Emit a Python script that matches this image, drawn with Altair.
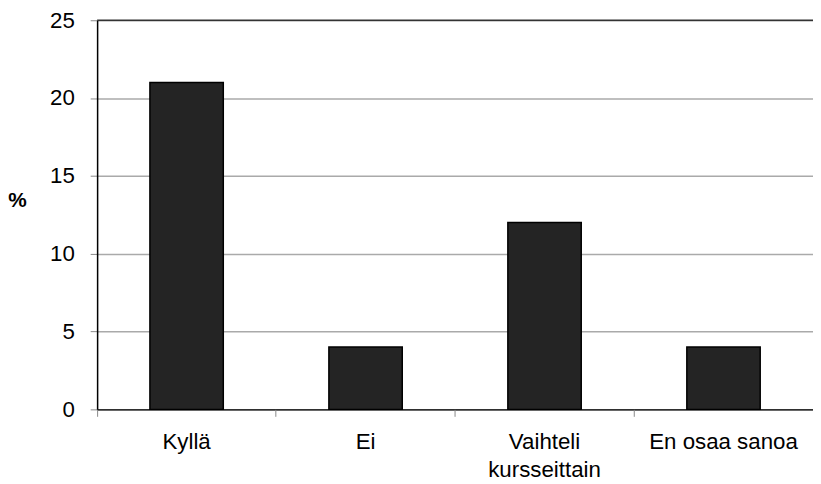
import altair as alt
import pandas as pd

categories = ["Kyllä", "Ei", "Vaihteli kursseittain", "En osaa sanoa"]
values = [21, 4, 12, 4]
top_value = [25]

df = pd.DataFrame({"cat": categories, "val": values})
FONT = "Liberation Sans, Arial, sans-serif"

xscale = alt.Scale(domain=categories, paddingInner=0.59, paddingOuter=0.295)
xscale_ticks = alt.Scale(domain=categories, paddingInner=0, paddingOuter=0)
yscale = alt.Scale(domain=[0, 25], nice=False)

bars = alt.Chart(df).mark_bar(color="#242424", stroke="#000000", strokeWidth=1.5).encode(
    x=alt.X("cat:N", scale=xscale, sort=categories,
            axis=alt.Axis(title=None, orient="bottom", labelAngle=0, ticks=False,
                          domain=True, domainColor="#000000", domainWidth=1.5,
                          labelFont=FONT, labelFontSize=22.5, labelColor="#000000",
                          labelPadding=22, labelLineHeight=28,
                          labelExpr="datum.value == 'Vaihteli kursseittain' ? ['Vaihteli', 'kursseittain'] : datum.value")),
    y=alt.Y("val:Q", scale=yscale,
            axis=alt.Axis(title="%", values=[0, 5, 10, 15, 20, 25], grid=True,
                          gridColor="#aaaaaa", gridWidth=1.5,
                          domainColor="#000000", domainWidth=1.5,
                          tickColor="#888888", tickSize=7, tickWidth=1,
                          labelFont=FONT, labelFontSize=22.5, labelColor="#000000",
                          labelPadding=16,
                          titleFont=FONT, titleFontSize=21,
                          titleFontWeight="bold", titleAngle=0,
                          titleAlign="center", titleBaseline="middle",
                          titleX=-81, titleY=182)),
)

ticks_layer = alt.Chart(df).mark_bar(opacity=0).encode(
    x=alt.X("cat:N", scale=xscale_ticks, sort=categories,
            axis=alt.Axis(title=None, orient="bottom", labels=False, domain=False,
                          ticks=True, tickColor="#888888", tickSize=7, tickWidth=1,
                          bandPosition=0)),
    y=alt.Y("val:Q", scale=yscale, axis=None),
)

top_rule = alt.Chart(pd.DataFrame({"y": top_value})).mark_rule(color="#333333", strokeWidth=1.5).encode(
    y=alt.Y("y:Q", scale=yscale, axis=None)
)

chart = alt.layer(bars, ticks_layer, top_rule).resolve_scale(x="independent").resolve_axis(
    x="independent", y="independent"
).properties(
    width=723, height=393,
    autosize=alt.AutoSizeParams(type="none"),
    padding={"left": 90, "top": 10, "right": 0, "bottom": 73},
).configure_view(stroke=None).configure(background="#ffffff")

chart.save("out.html", embed_options={"renderer": "svg", "actions": False})
